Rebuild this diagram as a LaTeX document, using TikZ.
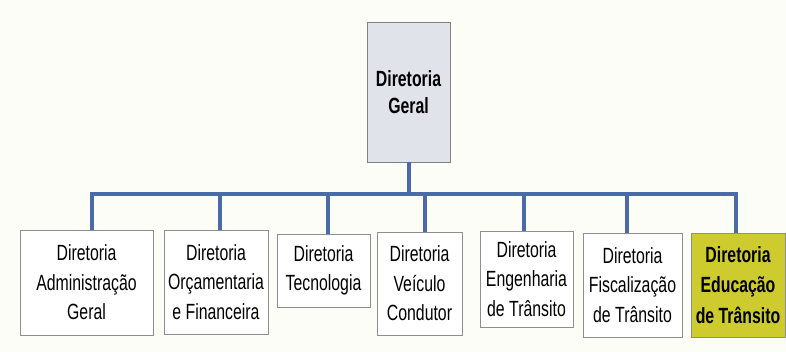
\documentclass[tikz,border=0pt]{standalone}
\usepackage{fontspec}
\setmainfont{Liberation Sans}[FakeStretch=0.72]
\definecolor{busblue}{HTML}{4A6AAA}
\definecolor{boxline}{HTML}{8E8E8E}
\definecolor{topfill}{HTML}{E1E3EA}
\definecolor{hilite}{HTML}{CDCB2E}
\definecolor{paper}{HTML}{FDFDF8}
\tikzset{
	dirbox/.style={draw=boxline, line width=0.9pt, fill=white, inner sep=1pt, align=center,
		font=\fontsize{22}{29.5}\selectfont},
	link/.style={draw=busblue, line width=4pt},
}

\begin{document}
\begin{tikzpicture}[x=1pt, y=-1pt]
	\fill[paper] (0,0) rectangle (786,352);
	\useasboundingbox (0,0) rectangle (786,352);
	% topo
	\node[dirbox, fill=topfill, draw=gray, minimum width=83pt, minimum height=140pt,
		font=\fontsize{22}{27}\selectfont\bfseries] (geral) at (408.5,92) {Diretoria\\Geral};
	% diretorias
	\node[dirbox, minimum width=133pt, minimum height=105pt] (adm) at (86.5,282.5) {Diretoria\\Administração\\Geral};
	\node[dirbox, minimum width=104pt, minimum height=104pt] (orc) at (216,282) {Diretoria\\Orçamentaria\\e Financeira};
	\node[dirbox, minimum width=93pt, minimum height=73pt] (tec) at (323.5,270.5) {Diretoria\\Tecnologia};
	\node[dirbox, minimum width=85pt, minimum height=103pt] (vei) at (419.5,283.5) {Diretoria\\Veículo\\Condutor};
	\node[dirbox, minimum width=93pt, minimum height=96pt] (eng) at (526.5,279) {Diretoria\\Engenharia\\de Trânsito};
	\node[dirbox, minimum width=99pt, minimum height=104pt] (fis) at (632.5,285) {Diretoria\\Fiscalização\\de Trânsito};
	\node[dirbox, fill=hilite, minimum width=94pt, minimum height=104pt,
		font=\fontsize{22}{30.5}\selectfont\bfseries] (edu) at (738,285) {Diretoria\\Educação\\de Trânsito};
	% barramento
	\coordinate (j1) at (92,194);
	\coordinate (j2) at (220,194);
	\coordinate (j3) at (328,194);
	\coordinate (j4) at (425,194);
	\coordinate (j5) at (524,194);
	\coordinate (j6) at (627,194);
	\coordinate (j7) at (736,194);
	\draw[link] (geral.south) -- (geral.south |- j1);
	\draw[link] (j1 |- adm.north) -- (j1) -- (j7) -- (j7 |- edu.north);
	\draw[link] (j2) -- (j2 |- orc.north);
	\draw[link] (j3) -- (j3 |- tec.north);
	\draw[link] (j4) -- (j4 |- vei.north);
	\draw[link] (j5) -- (j5 |- eng.north);
	\draw[link] (j6) -- (j6 |- fis.north);
\end{tikzpicture}
\end{document}
